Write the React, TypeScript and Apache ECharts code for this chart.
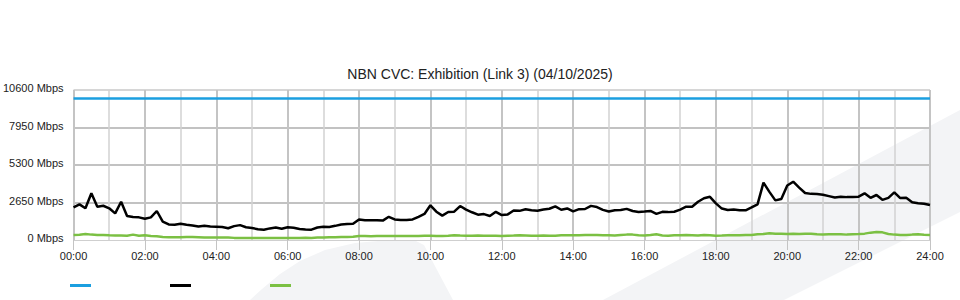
import React, { useEffect, useRef } from 'react';
import * as echarts from 'echarts';

const TITLE = 'NBN CVC: Exhibition (Link 3) (04/10/2025)';
const SERIES_NAMES = ['Capacity', 'Download', 'Upload'];
const Y_TICKS = [0, 2650, 5300, 7950, 10600];
const X_HOURS = [0, 24];
const STEP_HOURS = 10 / 60;
const CAPACITY = 10000;

const DOWNLOAD = [
  2310, 2520, 2240, 3300, 2350, 2420,
  2240, 1880, 2700, 1700, 1620, 1600,
  1500, 1600, 2050, 1300, 1100, 1080,
  1150, 1080, 1030, 950, 1000, 960,
  940, 920, 830, 980, 1050, 900,
  850, 760, 730, 820, 880, 790,
  900, 870, 780, 740, 730, 880,
  940, 920, 1000, 1090, 1130, 1150,
  1450, 1400, 1390, 1400, 1370, 1640,
  1450, 1410, 1410, 1450, 1640, 1840,
  2450, 2000, 1720, 1980, 2000, 2400,
  2150, 1960, 1790, 1830, 1700, 1990,
  1760, 1810, 2080, 2060, 2170, 2100,
  2070, 2150, 2210, 2380, 2140, 2230,
  2020, 2180, 2190, 2410, 2330, 2130,
  2010, 2100, 2120, 2200, 2050, 1980,
  2010, 2050, 1850, 1990, 1970, 2000,
  2150, 2350, 2350, 2700, 2950, 3050,
  2590, 2220, 2120, 2150, 2100, 2100,
  2300, 2520, 4050, 3400, 2800, 2900,
  3850, 4120, 3700, 3320, 3260, 3250,
  3200, 3100, 3000, 3060, 3030, 3040,
  3060, 3300, 2980, 3180, 2840, 2980,
  3370, 2960, 2980, 2660, 2600, 2560,
  2470,
];

const UPLOAD = [
  350, 370, 420, 380, 360, 360,
  330, 320, 310, 300, 380, 300,
  330, 290, 260, 220, 200, 200,
  200, 210, 210, 200, 180, 170,
  170, 180, 180, 150, 150, 150,
  150, 140, 150, 150, 150, 150,
  150, 150, 140, 160, 150, 170,
  180, 200, 200, 220, 220, 230,
  280, 280, 270, 280, 280, 290,
  280, 290, 290, 290, 290, 300,
  300, 290, 290, 300, 330, 310,
  300, 300, 310, 300, 300, 300,
  290, 300, 310, 340, 320, 300,
  300, 310, 300, 300, 330, 330,
  340, 340, 350, 350, 360, 340,
  330, 320, 350, 380, 380, 330,
  320, 350, 400, 320, 300, 330,
  330, 350, 340, 320, 360, 340,
  300, 310, 330, 330, 340, 350,
  360, 400, 420, 470, 450, 440,
  430, 440, 430, 450, 440, 400,
  380, 400, 400, 410, 380, 400,
  420, 450, 520, 570, 540, 420,
  380, 360, 350, 380, 400, 370,
  350,
];

const FONT = '"Liberation Sans", Arial, Helvetica, sans-serif';

function toPairs(values: number[]): [number, number][] {
  return values.map((v, i) => [i * STEP_HOURS, v]);
}

export default function App() {
  const ref = useRef<HTMLDivElement>(null);

  useEffect(() => {
    if (!ref.current) return;
    const chart = echarts.init(ref.current, undefined, { renderer: 'svg' });
    const bg = '#f3f4f6';
    chart.setOption({
      animation: false,
      backgroundColor: '#ffffff',
      title: {
        text: TITLE,
        left: 'center',
        top: 62,
        textStyle: { fontFamily: FONT, fontSize: 14, fontWeight: 'normal', color: '#222' },
      },
      graphic: [
        {
          type: 'polygon',
          z: -100,
          silent: true,
          shape: {
            points: [
              [250, 300], [262, 289], [280, 274], [300, 261], [325, 250], [355, 243],
              [390, 240], [414, 240], [424, 245], [436, 268], [453, 300],
            ],
          },
          style: { fill: bg },
        },
        {
          type: 'polygon',
          z: -100,
          silent: true,
          shape: {
            points: [[603, 300], [960, 110], [960, 212], [784, 300]],
          },
          style: { fill: bg },
        },
      ],
      legend: {
        left: 65,
        top: 279,
        icon: 'rect',
        itemWidth: 21,
        itemHeight: 3,
        itemGap: 79,
        formatter: () => '',
        textStyle: { fontSize: 11 },
        data: SERIES_NAMES,
      },
      grid: { left: 70, right: 30, top: 90, bottom: 60, containLabel: false },
      xAxis: {
        type: 'value',
        min: X_HOURS[0],
        max: X_HOURS[1],
        interval: 2,
        axisLine: { show: true, lineStyle: { color: '#cfcfcf', width: 1 } },
        axisTick: { show: true, length: 10, lineStyle: { color: '#c4c4c4', width: 1 } },
        axisLabel: {
          margin: 10,
          fontFamily: FONT,
          fontSize: 11,
          color: '#222',
          formatter: (v: number) => String(v).padStart(2, '0') + ':00',
        },
        splitLine: { show: true, lineStyle: { color: '#c4c4c4', width: 2 } },
        minorTick: { show: false, splitNumber: 2 },
        minorSplitLine: { show: true, lineStyle: { color: '#d2d2d2', width: 1.5 } },
      },
      yAxis: {
        type: 'value',
        min: Y_TICKS[0],
        max: Y_TICKS[Y_TICKS.length - 1],
        interval: Y_TICKS[1] - Y_TICKS[0],
        axisLine: { show: false },
        axisTick: { show: false },
        axisLabel: {
          margin: 10,
          fontFamily: FONT,
          fontSize: 11,
          color: '#222',
          verticalAlign: 'bottom',
          lineHeight: 4,
          formatter: (v: number) => v + ' Mbps',
        },
        splitLine: {
          show: true,
          lineStyle: {
            color: ['rgba(0,0,0,0)', '#c2c2c2', '#c2c2c2', '#c2c2c2', '#d6d6d6'],
            width: 2,
          },
        },
      },
      series: [
        {
          name: SERIES_NAMES[0],
          type: 'line',
          data: [[X_HOURS[0], CAPACITY], [X_HOURS[1], CAPACITY]],
          showSymbol: false,
          lineStyle: { color: '#1b9fe0', width: 2.5 },
          itemStyle: { color: '#1b9fe0' },
          z: 3,
        },
        {
          name: SERIES_NAMES[1],
          type: 'line',
          data: toPairs(DOWNLOAD),
          showSymbol: false,
          lineStyle: { color: '#000000', width: 2.5 },
          itemStyle: { color: '#000000' },
          z: 4,
        },
        {
          name: SERIES_NAMES[2],
          type: 'line',
          data: toPairs(UPLOAD),
          showSymbol: false,
          lineStyle: { color: '#7bc043', width: 2.5 },
          itemStyle: { color: '#7bc043' },
          z: 3,
        },
      ],
    });
    return () => chart.dispose();
  }, []);

  return (
    <div
      ref={ref}
      style={{ position: 'fixed', left: 0, top: 0, width: 960, height: 300 }}
    />
  );
}
